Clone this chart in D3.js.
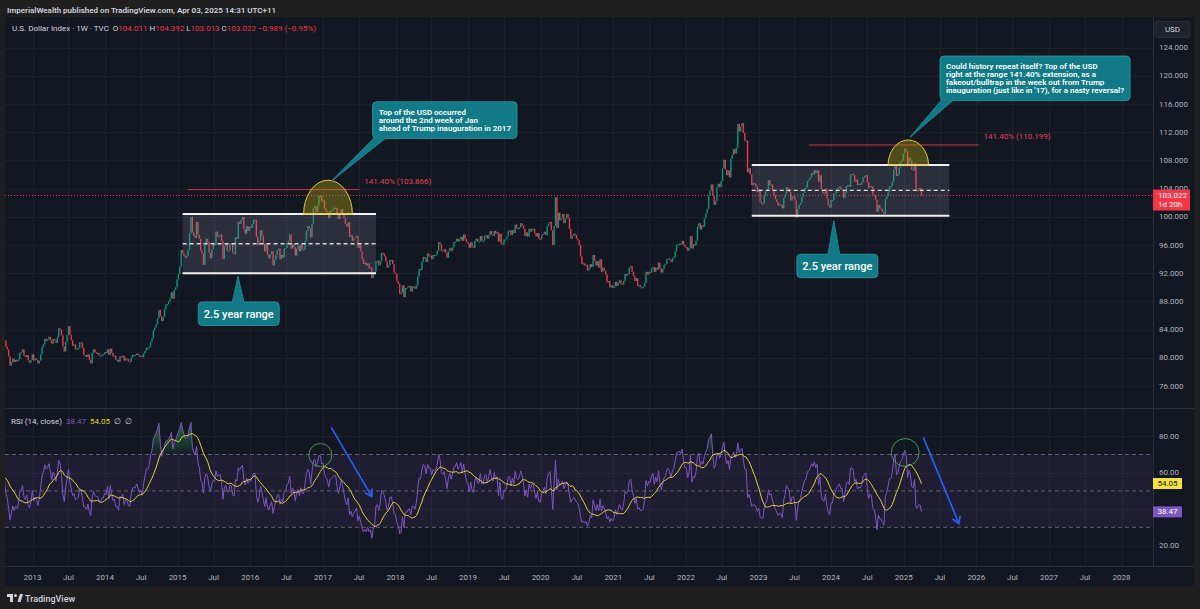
<!DOCTYPE html>
<html lang="en">
<head>
<meta charset="UTF-8">
<title>U.S. Dollar Index 1W - TradingView</title>
<script src="https://d3js.org/d3.v7.min.js"></script>
<style>
  body { margin: 0; background: #1f1f1f; overflow: hidden; }
  svg text { font-family: Roboto, "Noto Sans", sans-serif; }
</style>
</head>
<body>
<svg id="chart" width="1200" height="609"></svg>
<script>
// weekly closes of DXY, one value per week (week starts on Monday)
const close2012 = [81.0,81.5,80.6,79.5,78.9, 78.8,79.3,78.7,79.6, 79.9,80.1,79.2,78.9, 79.9,79.6,79.1,78.9,79.6, 80.3,81.5,82.3,82.8, 82.2,81.6,82.3,81.8, 82.9,83.3,83.1,82.7,82.3, 82.5,82.5,81.6,81.2, 80.2,78.9,79.4,79.9, 79.4,79.7,79.5,79.8,80.7, 80.8,81.2,80.3,80.1, 80.4,79.6,79.3,79.7,80.5];
const close2013 = [79.6,79.9,79.7,79.2, 79.6,80.5,81.5,81.9, 82.7,82.4,82.6,83.0, 82.5,82.0,82.7,82.5,82.1, 82.9,84.2,84.0,83.2, 81.6,80.9,82.3,83.2, 84.5,83.2,82.5,81.7,81.9, 81.2,81.3,81.4,82.2, 82.2,81.4,80.4,80.4,80.1, 80.5,79.7,79.2,80.7, 81.2,80.8,80.7,80.7, 80.3,80.3,80.5,80.5,80.8];
const close2014 = [80.7,81.2,80.4,81.3, 80.7,80.2,80.3,79.7, 79.7,79.4,80.2,80.1,80.3, 79.6,79.9,79.8,79.5, 79.4,80.0,80.4,80.4, 80.4,80.6,80.4,80.2,80.3, 80.1,80.6,81.0,81.4, 81.4,81.6,82.3,82.7, 83.9,84.3,84.8,85.6,86.8, 85.9,85.2,85.8,86.9, 87.6,87.6,88.0,88.4, 89.3,88.4,89.6,90.0,91.1];
const close2015 = [91.9,92.9,95.3,94.8, 94.5,94.2,94.4,95.3, 97.7,100.0,97.8,97.3,97.0, 99.3,97.5,96.9,95.2, 94.8,93.2,96.0,96.9, 96.4,94.9,94.1,95.4,96.1, 96.0,97.9,97.2,97.3, 97.5,96.6,94.0,95.8,96.2, 95.2,95.2,96.2,96.1, 94.9,94.7,97.1,96.9, 99.3,99.0,99.6,100.0,98.3, 97.6,98.7,98.0,98.6];
const close2016 = [98.4,99.0,99.6,99.6, 97.2,96.0,96.6,98.1,97.3, 96.2,95.1,96.2,94.6, 94.1,94.7,95.1,93.1, 93.9,94.6,95.3,95.5,94.0, 94.6,94.2,95.5,95.6, 96.3,96.6,97.5,95.5, 96.2,95.7,94.5,95.5,95.9, 95.1,96.1,95.4,95.4, 96.6,98.0,98.7,98.4,97.1, 99.0,101.2,101.5,100.7, 101.6,103.0,103.0,102.2];
const close2017 = [102.3,101.2,100.8,100.6,99.8, 100.8,100.9,101.1,101.3, 101.3,100.3,99.7,100.3, 101.1,100.5,99.8,99.0, 98.6,99.2,97.1,97.4,96.6, 96.9,97.1,97.3,95.6, 96.0,95.1,94.0,93.3,93.5, 93.1,93.4,92.7,92.8, 91.3,91.9,92.2,93.7, 93.8,93.1,93.7,94.9,94.8, 94.4,93.7,92.8,93.1, 93.9,93.9,93.3,92.1];
const close2018 = [91.9,90.9,90.5,89.1,89.2, 90.3,88.6,89.9,89.9, 90.1,90.2,89.4,90.1, 90.1,89.8,90.3,91.5,92.6, 92.5,93.6,94.3,94.2, 93.6,94.8,94.5,94.5, 94.0,94.6,94.5,94.6,95.2, 96.4,96.1,95.2,95.1, 95.4,94.9,94.2,95.1, 95.6,95.2,95.7,96.4,96.5, 96.9,96.5,96.8,97.2, 96.6,97.5,96.9,96.4,96.2];
const close2019 = [95.6,96.4,95.8,95.6, 96.6,96.9,96.5,96.5, 97.3,96.6,96.6,97.3, 97.4,96.9,97.4,98.0,97.5, 97.3,98.0,97.6,97.8, 96.5,97.6,96.2,96.1, 96.8,96.8,97.2,98.0,98.1, 97.4,98.1,97.7,98.9, 98.4,98.3,98.5,99.1,98.8, 98.3,97.3,97.8,97.2, 98.3,97.9,98.3,98.3, 97.7,97.2,97.7,96.9,96.8];
const close2020 = [97.4,97.6,97.9,97.4, 98.7,99.1,99.3,98.1, 96.0,98.7,102.8,98.4,100.6, 99.5,99.8,100.4,99.1, 99.7,100.4,99.9,98.3, 96.9,97.3,97.6,97.4,96.9, 96.7,96.0,94.4,93.3, 93.4,93.1,93.2,92.4,92.7, 93.3,92.9,94.6,93.8, 93.1,93.7,92.8,94.0, 92.2,92.8,92.4,91.8,90.7, 90.9,90.0,90.3,89.9];
const close2021 = [90.1,90.8,90.2,90.6, 91.0,90.5,90.4,90.9, 91.9,91.7,91.9,92.8,93.0, 92.2,91.6,90.9,91.3, 90.2,90.3,90.0,90.0,90.1, 90.6,92.2,91.8,92.2, 92.1,92.7,92.9,92.2, 92.8,92.5,93.5,92.7,92.1, 92.6,93.2,93.3,94.0, 94.1,93.9,93.6,94.1, 94.3,95.1,96.0,96.1,96.2, 96.1,96.6,96.0,95.7];
const close2022 = [95.7,95.2,95.6,97.3,95.5, 96.1,96.0,96.6,98.6, 99.1,98.2,98.8,98.6, 99.8,100.5,101.1,103.0, 103.7,104.6,103.0,101.7,102.2, 104.2,104.7,104.2,105.1, 106.9,108.1,106.7,105.9, 106.6,105.6,108.2,108.8,109.6, 109.0,109.8,113.2,112.1, 112.8,113.3,111.9,110.8,110.8, 106.3,106.9,106.0,104.5, 104.8,104.7,104.3,103.5];
const close2023 = [103.9,102.2,101.9,101.9,103.0, 103.6,103.9,105.2,104.5, 104.6,103.7,103.1,102.5, 102.1,101.6,101.8,101.7, 101.2,102.7,103.2,104.2,104.0, 103.5,102.3,102.9,102.9, 102.3,99.9,101.1,101.7,102.0, 102.8,103.4,104.1,104.2, 105.1,105.3,105.6,106.2, 106.0,106.6,106.2,106.6,105.0, 105.9,103.9,103.4,103.3, 104.0,102.6,101.7,101.3];
const close2024 = [102.4,102.4,103.3,103.4,103.9, 104.1,104.3,103.9,103.9, 102.7,103.4,104.4,104.5, 104.3,106.0,106.1,105.9,105.0, 105.3,104.5,104.7,104.6, 104.9,105.6,105.8,105.9, 104.9,104.1,104.4,104.3,103.2, 103.1,102.4,100.7,101.7, 101.2,101.1,100.7,100.4,102.5, 102.9,103.5,104.3,104.3, 105.0,106.7,107.5,105.8, 106.0,107.0,107.8,108.0,109.0];
const close2025 = [109.7,109.3,107.4,108.4, 108.0,106.7,106.6,107.6, 103.8,103.7,104.1,104.01, 103.022];

const closeYears = [
  [2012, close2012], [2013, close2013], [2014, close2014], [2015, close2015],
  [2016, close2016], [2017, close2017], [2018, close2018], [2019, close2019],
  [2020, close2020], [2021, close2021], [2022, close2022], [2023, close2023],
  [2024, close2024], [2025, close2025]
];

const priceTicks = [76, 80, 84, 88, 92, 96, 100, 104, 108, 112, 116, 120, 124];
const rsiGridTicks = [20, 40, 60, 80];
const rsiLabelTicks = [20, 60, 80];
const rsiBands = [70, 50, 30];
const timeTickLabels = ["2013","Jul","2014","Jul","2015","Jul","2016","Jul","2017","Jul","2018","Jul","2019","Jul","2020","Jul","2021","Jul","2022","Jul","2023","Jul","2024","Jul","2025","Jul","2026","Jul","2027","Jul","2028"];

const lastPrice = 103.022;
const lastRsi = 38.47;
const lastRsiMa = 54.05;

// drawings (anchored on date / price like the TradingView tools)
const rangeBoxes = [
  { start: "2015-01-26", end: "2017-09-25", top: 100.39, bottom: 91.99 },
  { start: "2022-11-28", end: "2025-08-18", top: 107.35, bottom: 100.16 }
];
const extensions = [
  { start: "2015-02-23", end: "2017-07-03", level: 103.866, label: "141.40% (103.866)" },
  { start: "2023-09-11", end: "2026-01-12", level: 110.199, label: "141.40% (110.199)" }
];
const topArcs = [
  { start: "2016-09-26", end: "2017-05-29", base: 100.39, peak: 105.2 },
  { start: "2024-10-14", end: "2025-05-05", base: 107.35, peak: 110.9 }
];
const callouts = [
  { at: ["2017-09-08", 116.33], tip: ["2017-02-14", 105.1],
    lines: ["Top of the USD occurred", "around the 2nd week of Jan", "ahead of Trump inauguration in 2017"] },
  { at: ["2025-07-02", 122.82], tip: ["2025-02-01", 111.3],
    lines: ["Could history repeat itself? Top of the USD", "right at the range 141.40% extension, as a",
            "fakeout/bulltrap in the week out from Trump", "inauguration (just like in '17), for a nasty reversal?"] },
  { at: ["2015-04-15", 87.92], tip: ["2015-11-01", 91.57], lines: ["2.5 year range"] },
  { at: ["2023-07-13", 94.70], tip: ["2024-01-15", 99.45], lines: ["2.5 year range"] }
];
const rsiCircles = [
  { center: ["2016-12-19", 69.7], edge: "2017-02-15" },
  { center: ["2025-01-08", 71.1], edge: "2025-03-19" }
];
const rsiArrows = [
  { from: ["2017-02-12", 84.9], to: ["2017-09-04", 46.9] },
  { from: ["2025-04-09", 79.4], to: ["2025-10-05", 32.1] }
];

const parse = d3.timeParse("%Y-%m-%d");

const W = 1200, H = 609;
const plotLeft = 5, plotRight = 1153, frameRight = 1194;
const priceTop = 17, priceBottom = 408, rsiTop = 409, rsiBottom = 566, frameBottom = 586;

const svg = d3.select("#chart");
const defs = svg.append("defs");

svg.append("rect").attr("width", W).attr("height", H).attr("fill", "#1f1f1f");
svg.append("rect").attr("x", plotLeft).attr("y", priceTop)
  .attr("width", frameRight - plotLeft).attr("height", frameBottom - priceTop).attr("fill", "#131722");

const x = d3.scaleTime().domain([new Date(2013, 0, 1), new Date(2028, 0, 1)]).range([32.5, 1121.5]);
const y = d3.scaleLinear().domain([76, 124]).range([386, 47.7]);
const yR = d3.scaleLinear().domain([20, 80]).range([545.5, 436.3]);

// bars
const bars = [];
closeYears.forEach(([yr, arr]) => {
  const first = d3.timeMonday.ceil(new Date(yr, 0, 1));
  arr.forEach((c, i) => bars.push({ date: d3.timeMonday.offset(first, i), close: c }));
});
bars.forEach((b, i) => { b.open = i ? bars[i - 1].close : b.close; });

// RSI(14, close) + SMA(14)
const rsiLen = 14, maLen = 14;
let avgUp = 0, avgDn = 0;
bars.forEach((b, i) => {
  b.rsi = null;
  if (i === 0) return;
  const ch = b.close - bars[i - 1].close;
  const up = Math.max(ch, 0), dn = Math.max(-ch, 0);
  if (i <= rsiLen) {
    avgUp += up / rsiLen; avgDn += dn / rsiLen;
    if (i < rsiLen) return;
  } else {
    avgUp = (avgUp * (rsiLen - 1) + up) / rsiLen;
    avgDn = (avgDn * (rsiLen - 1) + dn) / rsiLen;
  }
  b.rsi = avgDn === 0 ? 100 : 100 - 100 / (1 + avgUp / avgDn);
});
bars.forEach((b, i) => {
  const win = bars.slice(Math.max(0, i - maLen + 1), i + 1).map(d => d.rsi);
  b.ma = (win.length === maLen && win.every(v => v != null)) ? d3.mean(win) : null;
});

// clips
defs.append("clipPath").attr("id", "clipPrice").append("rect")
  .attr("x", plotLeft).attr("y", priceTop).attr("width", plotRight - plotLeft).attr("height", priceBottom - priceTop);
defs.append("clipPath").attr("id", "clipRsi").append("rect")
  .attr("x", plotLeft).attr("y", rsiTop).attr("width", plotRight - plotLeft).attr("height", rsiBottom - rsiTop);

// grid
const timeTicks = d3.timeMonth.every(6).range(new Date(2013, 0, 1), new Date(2028, 0, 2));
const grid = svg.append("g").attr("stroke", "#1e222d").attr("stroke-width", 1);
grid.selectAll(".vg").data(timeTicks).join("line")
  .attr("x1", d => Math.round(x(d)) + 0.5).attr("x2", d => Math.round(x(d)) + 0.5)
  .attr("y1", priceTop).attr("y2", rsiBottom);
grid.selectAll(".hg").data(priceTicks).join("line")
  .attr("x1", plotLeft).attr("x2", plotRight)
  .attr("y1", d => Math.round(y(d)) + 0.5).attr("y2", d => Math.round(y(d)) + 0.5);
grid.selectAll(".rg").data(rsiGridTicks).join("line")
  .attr("x1", plotLeft).attr("x2", plotRight)
  .attr("y1", d => Math.round(yR(d)) + 0.5).attr("y2", d => Math.round(yR(d)) + 0.5);

// pane separators
const sep = svg.append("g").attr("stroke", "#2a2e39").attr("stroke-width", 1);
sep.append("line").attr("x1", plotLeft).attr("x2", frameRight).attr("y1", priceBottom + 0.5).attr("y2", priceBottom + 0.5);
sep.append("line").attr("x1", plotLeft).attr("x2", frameRight).attr("y1", rsiBottom + 0.5).attr("y2", rsiBottom + 0.5);
sep.append("line").attr("x1", plotRight + 0.5).attr("x2", plotRight + 0.5).attr("y1", priceTop).attr("y2", rsiBottom);

// ---------- price pane ----------
const pg = svg.append("g").attr("clip-path", "url(#clipPrice)");

pg.append("line").attr("x1", plotLeft).attr("x2", plotRight)
  .attr("y1", y(lastPrice)).attr("y2", y(lastPrice))
  .attr("stroke", "#f23645").attr("stroke-width", 1).attr("stroke-dasharray", "1,2");

pg.append("g").selectAll("rect").data(bars).join("rect")
  .attr("x", d => x(d.date) - 0.7)
  .attr("width", 1.4)
  .attr("y", d => Math.min(y(d.open), y(d.close)))
  .attr("height", d => Math.max(1.2, Math.abs(y(d.open) - y(d.close))))
  .attr("fill", d => d.close >= d.open ? "#089981" : "#f23645");

// range boxes
rangeBoxes.forEach(b => {
  const x0 = x(parse(b.start)), x1 = x(parse(b.end));
  const yt = y(b.top), yb = y(b.bottom), ym = y((b.top + b.bottom) / 2);
  pg.append("rect").attr("x", x0).attr("y", yt).attr("width", x1 - x0).attr("height", yb - yt)
    .attr("fill", "rgba(130,134,148,0.22)");
  [yt, yb].forEach(v => pg.append("line").attr("x1", x0).attr("x2", x1).attr("y1", v).attr("y2", v)
    .attr("stroke", "#f0f0f0").attr("stroke-width", 2));
  pg.append("line").attr("x1", x0).attr("x2", x1).attr("y1", ym).attr("y2", ym)
    .attr("stroke", "#d8d8d8").attr("stroke-width", 1.4).attr("stroke-dasharray", "4,3");
});

// extension levels
extensions.forEach(e => {
  const x0 = x(parse(e.start)), x1 = x(parse(e.end)), yl = y(e.level);
  pg.append("line").attr("x1", x0).attr("x2", x1).attr("y1", yl).attr("y2", yl)
    .attr("stroke", "#f23645").attr("stroke-opacity", 0.85).attr("stroke-width", 1);
  pg.append("text").attr("x", x1 + 5).attr("y", yl - 8).attr("dominant-baseline", "central")
    .attr("fill", "#e0424f").attr("font-size", 8).text(e.label);
});

// arcs
topArcs.forEach(a => {
  const x0 = x(parse(a.start)), x1 = x(parse(a.end)), yb = y(a.base), yp = y(a.peak);
  const rx = (x1 - x0) / 2, ry = yb - yp;
  pg.append("path")
    .attr("d", `M${x0},${yb} A${rx},${ry} 0 0 1 ${x1},${yb} Z`)
    .attr("fill", "rgba(176,160,20,0.38)").attr("stroke", "#e3cc2e").attr("stroke-width", 1);
});

// callouts
callouts.forEach(c => {
  const g = pg.append("g");
  const bx = x(parse(c.at[0])), by = y(c.at[1]);
  const tx = x(parse(c.tip[0])), ty = y(c.tip[1]);
  const big = c.lines.length === 1;
  const fs = big ? 11 : 8, lh = 7.9;
  const text = g.append("text").attr("fill", "#ffffff").attr("font-size", fs)
    .attr("font-weight", big ? 500 : 600);
  const spans = c.lines.map((l, i) => text.append("tspan").text(l));
  const widths = spans.map(s => s.node().getComputedTextLength());
  const w = d3.max(widths) + (big ? 11 : 12);
  const h = big ? 23.5 : c.lines.length * lh + 13;
  let pts;
  if (ty > by + h) pts = [[bx + 2, by + h - 1], [bx + 14, by + h - 1], [tx, ty]];
  else pts = [[tx - 6, by + 1], [tx + 6, by + 1], [tx, ty]];
  const fill = "#127a86", stroke = "#2aa0ac";
  g.insert("polygon", "text").attr("points", pts.join(" ")).attr("fill", fill).attr("stroke", stroke).attr("stroke-width", 0.8);
  g.insert("rect", "text").attr("x", bx).attr("y", by).attr("width", w).attr("height", h).attr("rx", 4)
    .attr("fill", fill).attr("stroke", stroke).attr("stroke-width", 0.8);
  g.insert("polygon", "text").attr("points", pts.join(" ")).attr("fill", fill);
  if (big) {
    text.attr("text-anchor", "middle").attr("dominant-baseline", "central");
    spans[0].attr("x", bx + w / 2).attr("y", by + h / 2 + 0.5);
  } else {
    spans.forEach((s, i) => s.attr("x", bx + 6).attr("y", by + 13 + i * lh));
  }
});

// header texts
svg.append("text").attr("x", 7).attr("y", 10).attr("dominant-baseline", "central")
  .attr("fill", "#d1d4dc").attr("font-size", 8).attr("font-weight", 600)
  .text("ImperialWealth published on TradingView.com, Apr 03, 2025 14:31 UTC+11");

const legend = svg.append("text").attr("x", 12).attr("y", 27.5).attr("dominant-baseline", "central")
  .attr("font-size", 8).attr("fill", "#d1d4dc");
[["U.S. Dollar Index · 1W · TVC", "#d1d4dc"], ["  O", "#d1d4dc"], ["104.011", "#f23645"],
 [" H", "#d1d4dc"], ["104.392", "#f23645"], [" L", "#d1d4dc"], ["103.013", "#f23645"],
 [" C", "#d1d4dc"], ["103.022", "#f23645"], [" \u22120.989 (\u22120.95%)", "#f23645"]]
  .forEach(([t, c]) => legend.append("tspan").attr("fill", c).attr("xml:space", "preserve").text(t));
legend.attr("xml:space", "preserve");

// price axis
const pa = svg.append("g").attr("font-size", 8).attr("fill", "#b2b5be");
pa.selectAll("text").data(priceTicks).join("text")
  .attr("x", 1159).attr("y", d => y(d)).attr("dominant-baseline", "central")
  .text(d => d3.format(".3f")(d));

const usd = svg.append("g");
usd.append("rect").attr("x", 1155).attr("y", 21.5).attr("width", 35).attr("height", 16).attr("rx", 2)
  .attr("fill", "#1e222d").attr("stroke", "#2a2e39");
usd.append("text").attr("x", 1172.5).attr("y", 29.5).attr("text-anchor", "middle").attr("dominant-baseline", "central")
  .attr("font-size", 8).attr("fill", "#d1d4dc").text("USD");

const lp = svg.append("g");
lp.append("rect").attr("x", plotRight).attr("y", y(lastPrice) - 6).attr("width", 37).attr("height", 21)
  .attr("fill", "#f23645");
lp.append("text").attr("x", 1158).attr("y", y(lastPrice)).attr("dominant-baseline", "central")
  .attr("font-size", 8).attr("fill", "#ffffff").text(d3.format(".3f")(lastPrice));
lp.append("text").attr("x", 1158).attr("y", y(lastPrice) + 9).attr("dominant-baseline", "central")
  .attr("font-size", 8).attr("fill", "#ffffff").text("1d 20h");

// ---------- RSI pane ----------
const rg = svg.append("g").attr("clip-path", "url(#clipRsi)");
rg.append("rect").attr("x", plotLeft).attr("width", plotRight - plotLeft)
  .attr("y", yR(70)).attr("height", yR(30) - yR(70)).attr("fill", "rgba(126,87,194,0.1)");
rg.selectAll(".band").data(rsiBands).join("line")
  .attr("x1", plotLeft).attr("x2", plotRight).attr("y1", d => yR(d)).attr("y2", d => yR(d))
  .attr("stroke", "#787b86").attr("stroke-opacity", 0.75).attr("stroke-dasharray", "4,3");

const ob = defs.append("linearGradient").attr("id", "obGrad").attr("gradientUnits", "userSpaceOnUse")
  .attr("x1", 0).attr("x2", 0).attr("y1", yR(100)).attr("y2", yR(70));
ob.append("stop").attr("offset", 0).attr("stop-color", "#2fb35a").attr("stop-opacity", 0.9);
ob.append("stop").attr("offset", 1).attr("stop-color", "#2fb35a").attr("stop-opacity", 0.05);
const os = defs.append("linearGradient").attr("id", "osGrad").attr("gradientUnits", "userSpaceOnUse")
  .attr("x1", 0).attr("x2", 0).attr("y1", yR(30)).attr("y2", yR(0));
os.append("stop").attr("offset", 0).attr("stop-color", "#f23645").attr("stop-opacity", 0.05);
os.append("stop").attr("offset", 1).attr("stop-color", "#f23645").attr("stop-opacity", 0.9);

const rsiBars = bars.filter(b => b.rsi != null);
rg.append("path").datum(rsiBars)
  .attr("d", d3.area().x(d => x(d.date)).y0(yR(70)).y1(d => yR(Math.max(d.rsi, 70))))
  .attr("fill", "url(#obGrad)");
rg.append("path").datum(rsiBars)
  .attr("d", d3.area().x(d => x(d.date)).y0(yR(30)).y1(d => yR(Math.min(d.rsi, 30))))
  .attr("fill", "url(#osGrad)");

rg.append("path").datum(rsiBars)
  .attr("d", d3.line().x(d => x(d.date)).y(d => yR(d.rsi)))
  .attr("fill", "none").attr("stroke", "#7e57c2").attr("stroke-width", 1);
rg.append("path").datum(bars.filter(b => b.ma != null))
  .attr("d", d3.line().x(d => x(d.date)).y(d => yR(d.ma)))
  .attr("fill", "none").attr("stroke", "#e8d43c").attr("stroke-width", 1);

rsiCircles.forEach(c => {
  const cx = x(parse(c.center[0])), cy = yR(c.center[1]);
  rg.append("circle").attr("cx", cx).attr("cy", cy).attr("r", x(parse(c.edge)) - cx)
    .attr("fill", "none").attr("stroke", "#4caf50").attr("stroke-opacity", 0.85).attr("stroke-width", 1);
});

rsiArrows.forEach(a => {
  const x0 = x(parse(a.from[0])), y0 = yR(a.from[1]), x1 = x(parse(a.to[0])), y1 = yR(a.to[1]);
  const ang = Math.atan2(y1 - y0, x1 - x0), L = 8, s = 0.55;
  rg.append("line").attr("x1", x0).attr("y1", y0).attr("x2", x1).attr("y2", y1)
    .attr("stroke", "#2962ff").attr("stroke-width", 1.6);
  rg.append("path")
    .attr("d", `M${x1 - L * Math.cos(ang - s)},${y1 - L * Math.sin(ang - s)} L${x1},${y1} L${x1 - L * Math.cos(ang + s)},${y1 - L * Math.sin(ang + s)}`)
    .attr("fill", "none").attr("stroke", "#2962ff").attr("stroke-width", 1.6);
});

const rl = svg.append("text").attr("x", 11).attr("y", 420.5).attr("dominant-baseline", "central")
  .attr("font-size", 8).attr("xml:space", "preserve");
[["RSI (14, close)", "#d1d4dc"], ["  38.47", "#7e57c2"], ["  54.05", "#e8d43c"], ["  \u2205  \u2205", "#d1d4dc"]]
  .forEach(([t, c]) => rl.append("tspan").attr("fill", c).text(t));

const ra = svg.append("g").attr("font-size", 8).attr("fill", "#b2b5be");
ra.selectAll("text").data(rsiLabelTicks).join("text")
  .attr("x", 1159).attr("y", d => yR(d)).attr("dominant-baseline", "central")
  .text(d => d3.format(".2f")(d));

[[lastRsiMa, "#f5e23e", "#131722"], [lastRsi, "#7e57c2", "#ffffff"]].forEach(([v, bg, fg]) => {
  svg.append("rect").attr("x", plotRight).attr("y", yR(v) - 5.5).attr("width", 29).attr("height", 11).attr("fill", bg);
  svg.append("text").attr("x", 1167.5).attr("y", yR(v)).attr("text-anchor", "middle").attr("dominant-baseline", "central")
    .attr("font-size", 8).attr("fill", fg).text(d3.format(".2f")(v));
});

// time axis
svg.append("g").attr("font-size", 8).attr("fill", "#b2b5be")
  .selectAll("text").data(timeTicks).join("text")
  .attr("x", d => x(d)).attr("y", 577).attr("text-anchor", "middle").attr("dominant-baseline", "central")
  .text((d, i) => timeTickLabels[i]);

// footer logo
const logo = svg.append("g").attr("fill", "#d1d4dc");
logo.append("path").attr("d", "M7,594 h6 v8 h-3 v-5 h-3 Z");
logo.append("circle").attr("cx", 15.5).attr("cy", 595.5).attr("r", 1.5);
logo.append("path").attr("d", "M17.5,602 L20,594 H23 L20.5,602 Z");
logo.append("text").attr("x", 25).attr("y", 598.5).attr("dominant-baseline", "central")
  .attr("font-size", 9).attr("font-weight", 500).text("TradingView");
</script>
</body>
</html>
